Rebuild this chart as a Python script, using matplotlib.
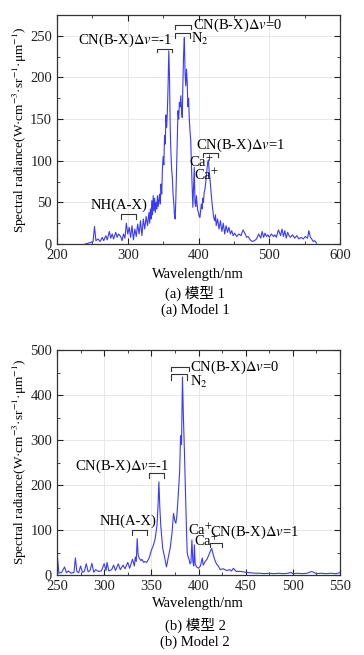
import matplotlib
matplotlib.use("Agg")
import matplotlib.pyplot as plt
from matplotlib.ticker import MultipleLocator

plt.rcParams['font.family'] = ['Liberation Serif', 'Noto Sans CJK SC']
plt.rcParams['mathtext.fontset'] = 'stix'

# =============================================================================
# DATA  —  spectra
# =============================================================================
wl_1 = [240, 244, 248, 251, 253, 255, 258, 261, 264, 266, 269, 271, 274, 276, 278,
        280, 283, 285, 287, 290, 292, 294, 296, 298, 300, 302, 304, 306, 308, 310,
        312, 314, 316, 318, 320, 322, 324, 326, 328,
        330, 331, 332, 333, 334, 335, 336, 337, 338, 339, 340, 341, 342, 343, 344,
        345, 346, 347, 348, 349, 350, 351, 352, 353, 354, 355, 356, 357, 358, 359,
        360, 361, 362, 363, 364, 365, 366, 367, 368, 369, 370, 371, 372, 373, 374,
        375, 376, 377, 378, 379, 380, 381, 382, 383, 384, 385, 386, 387, 388, 389,
        390, 391, 392, 393, 394, 395, 396, 397, 398, 399, 400, 401, 402, 403, 404,
        405, 406, 407, 408, 409, 410, 411, 412, 413, 414, 415, 416, 417, 418, 419,
        420, 421, 422, 423, 424, 425, 427, 429, 431, 433, 435, 437, 439, 441, 443,
        445, 447, 449, 451, 454, 457, 460, 463, 466, 468, 470, 473, 476, 479, 482,
        485, 488, 490, 492, 494, 496, 498, 500, 503, 506, 508, 510, 513, 516, 518,
        520, 522, 524, 526, 528, 530, 533, 536, 539, 542, 545, 548, 551, 554, 556,
        558, 560, 562, 564, 566, 567]
rad_1 = [0, 1, 2, 3, 21, 4, 6, 3, 8, 4, 10, 5, 15, 7, 12,
         6, 14, 8, 12, 9, 4, 12, 7, 25, 12, 20, 8, 22, 5, 18,
         9, 24, 12, 28, 10, 30, 18, 33, 22,
         38, 25, 42, 30, 52, 35, 58, 40, 55, 38, 50, 42, 58, 45, 52,
         60, 48, 72, 60, 90, 105, 95, 130, 120, 155, 140, 160, 190, 232, 200,
         140, 110, 90, 80, 60, 50, 35, 30, 55, 90, 130, 160, 150, 170, 165,
         178, 160, 152, 195, 230, 248, 205, 190, 210, 195, 165, 175, 150, 135, 125,
         95, 70, 44, 70, 92, 50, 45, 58, 48, 40, 38, 33, 32, 40, 48,
         42, 55, 50, 62, 65, 72, 80, 90, 98, 101, 88, 80, 70, 61, 50,
         42, 35, 30, 28, 35, 22, 30, 18, 28, 15, 25, 12, 22, 14, 20,
         12, 16, 10, 13, 9, 12, 10, 17, 12, 8, 9, 5, 3, 4, 6,
         12, 7, 15, 8, 13, 9, 11, 8, 12, 9, 11, 8, 17, 10, 18,
         9, 16, 7, 14, 10, 8, 11, 7, 10, 6, 8, 6, 9, 7, 16,
         8, 6, 3, 4, 2, 1]

wl_2 = [250, 250.5, 252, 255, 258, 260, 262, 265, 268, 269.5, 271, 273, 275, 277,
        279, 281, 283, 285, 287, 289, 291, 294, 297, 300, 302, 303, 305, 308, 310,
        312, 315, 317, 320, 322, 325, 327, 330, 332, 333, 334, 335, 336, 337, 339,
        340, 342, 343, 345, 347, 348, 350, 352, 354, 355, 356, 357, 358, 359, 360,
        362, 364, 366, 367, 368, 370, 372, 373.5, 375, 376, 377, 378, 379, 380, 381,
        382, 383, 384, 385, 386, 387, 388, 389, 390, 391, 392, 393, 394, 395, 395.6,
        396.5, 398, 400, 402, 404, 405, 407, 409, 411, 413, 414, 415, 417, 419, 421,
        423, 426, 430, 433, 435, 437, 440, 445, 450, 455, 460, 465, 470, 475, 480,
        485, 490, 495, 498, 500, 505, 510, 515, 520, 525, 530, 535, 540, 545, 548,
        550]
rad_2 = [5, 40, 4, 6, 18, 5, 9, 4, 6, 38, 8, 5, 20, 6,
         8, 25, 7, 10, 26, 6, 12, 8, 9, 25, 10, 28, 9, 12, 22,
         10, 25, 12, 22, 14, 28, 15, 35, 20, 40, 30, 81, 45, 38, 32,
         35, 28, 30, 28, 35, 40, 55, 65, 80, 95, 111, 150, 207, 150, 110,
         60, 40, 18, 28, 40, 60, 95, 137, 120, 115, 130, 160, 196, 230, 310,
         290, 440, 350, 280, 200, 120, 50, 40, 35, 25, 28, 78, 30, 20, 67,
         25, 18, 15, 20, 38, 22, 30, 35, 45, 55, 59, 50, 35, 25, 20,
         12, 14, 10, 12, 9, 15, 8, 8, 6, 5, 4, 4, 3, 4, 3,
         4, 3, 4, 6, 3, 4, 3, 4, 8, 3, 4, 3, 4, 3, 4,
         6]

LINE_C = '#3a3aff'
FS = 10.5


def bracket(ax, x0, x1, y, drop, lw=0.8):
    ax.plot([x0, x0, x1, x1], [y - drop, y, y, y - drop], color='#333333', lw=lw)


def style_axes(ax, xlim, ylim, xmaj, xmin, ymaj, ymin):
    ax.set_xlim(*xlim)
    ax.set_ylim(*ylim)
    ax.xaxis.set_major_locator(MultipleLocator(xmaj))
    ax.xaxis.set_minor_locator(MultipleLocator(xmin))
    ax.yaxis.set_major_locator(MultipleLocator(ymaj))
    ax.yaxis.set_minor_locator(MultipleLocator(ymin))
    ax.tick_params(which='both', direction='in', top=True, right=True,
                   labelsize=FS, colors='#222222')
    ax.tick_params(which='major', length=4, width=0.8)
    ax.tick_params(which='minor', length=2, width=0.6)
    ax.grid(True, which='major', color='#e4e4e4', lw=0.6)
    ax.set_axisbelow(True)
    for s in ax.spines.values():
        s.set_color('#333333')
        s.set_linewidth(0.9)


YLAB = 'Spectral radiance(W·cm$^{-3}$·sr$^{-1}$·μm$^{-1}$)'

fig = plt.figure(figsize=(3.64, 6.55), dpi=100)

# =============================================================================
# PANEL (a) — Model 1
# =============================================================================
ax1 = fig.add_axes([0.1566, 0.6275, 0.7775, 0.3496])
ax1.plot(wl_1, rad_1, color=LINE_C, lw=0.8)
style_axes(ax1, (200, 600), (0, 275), 100, 50, 50, 25)

ax1.text(363, 244, r'CN(B-X)$\Delta v$=-1', ha='right', va='center', fontsize=FS)
bracket(ax1, 341, 363, 234, 4)
bracket(ax1, 367, 390, 263, 5)
ax1.text(392, 263, r'CN(B-X)$\Delta v$=0', ha='left', va='center', fontsize=FS)
bracket(ax1, 367, 388, 253, 6)
ax1.text(390, 246, r'N$_2$', ha='left', va='center', fontsize=FS)
ax1.text(397, 118, r'CN(B-X)$\Delta v$=1', ha='left', va='center', fontsize=FS)
bracket(ax1, 407, 428, 109, 5)
ax1.text(387, 98, r'Ca$^{+}$', ha='left', va='center', fontsize=FS)
ax1.text(393, 83, r'Ca$^{+}$', ha='left', va='center', fontsize=FS)
ax1.text(287, 46, 'NH(A-X)', ha='center', va='center', fontsize=FS)
bracket(ax1, 291, 312, 36, 6)

fig.text(0.055, (655 - 130) / 655, YLAB, rotation=90, ha='center', va='center', fontsize=9.5)
fig.text(0.545, 1 - 274 / 655, 'Wavelength/nm', ha='center', va='center', fontsize=FS)
fig.text(0.536, 1 - 293 / 655, '(a) 模型 1', ha='center', va='center', fontsize=FS)
fig.text(0.536, 1 - 310 / 655, '(a) Model 1', ha='center', va='center', fontsize=FS)

# =============================================================================
# PANEL (b) — Model 2
# =============================================================================
ax2 = fig.add_axes([0.1566, 0.1221, 0.7775, 0.3435])
ax2.plot(wl_2, rad_2, color=LINE_C, lw=0.8)
style_axes(ax2, (250, 550), (0, 500), 50, 25, 100, 50)

bracket(ax2, 370.5, 390, 463, 10)
ax2.text(391, 461, r'CN(B-X)$\Delta v$=0', ha='left', va='center', fontsize=FS)
bracket(ax2, 370.5, 388, 446, 13)
ax2.text(391, 428, r'N$_2$', ha='left', va='center', fontsize=FS)
ax2.text(369, 242, r'CN(B-X)$\Delta v$=-1', ha='right', va='center', fontsize=FS)
bracket(ax2, 347.5, 363.5, 226, 10)
ax2.text(325.5, 119, 'NH(A-X)', ha='center', va='center', fontsize=FS)
bracket(ax2, 329, 345, 100, 10)
ax2.text(389, 100, r'Ca$^{+}$', ha='left', va='center', fontsize=FS)
ax2.text(395, 75, r'Ca$^{+}$', ha='left', va='center', fontsize=FS)
ax2.text(412, 94, r'CN(B-X)$\Delta v$=1', ha='left', va='center', fontsize=FS)
bracket(ax2, 412, 424.5, 72, 9)

fig.text(0.055, (655 - 462) / 655, YLAB, rotation=90, ha='center', va='center', fontsize=9.5)
fig.text(0.545, 1 - 603 / 655, 'Wavelength/nm', ha='center', va='center', fontsize=FS)
fig.text(0.536, 1 - 625 / 655, '(b) 模型 2', ha='center', va='center', fontsize=FS)
fig.text(0.536, 1 - 642 / 655, '(b) Model 2', ha='center', va='center', fontsize=FS)

fig.savefig("out.png", dpi=100)
plt.close(fig)
